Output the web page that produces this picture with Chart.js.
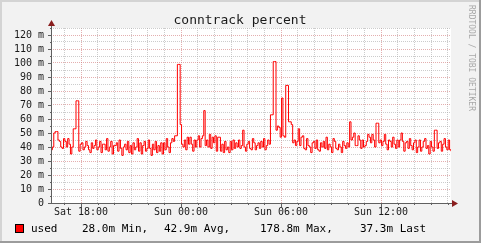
<!DOCTYPE html>
<html>
<head>
<meta charset="utf-8">
<script src="https://cdn.jsdelivr.net/npm/chart.js@4"></script>
<style>
  html, body { margin: 0; padding: 0; background: #f2f2f2; }
  #wrap { width: 481px; height: 243px; position: relative; }
</style>
</head>
<body>
<div id="wrap"><canvas id="graph" width="481" height="243"></canvas></div>
<script>
// conntrack percent, one sample every 5 minutes, starting Sat 16:12
const seriesName = 'used';
const stepMinutes = 5;
const usedValues = [
  38, 40, 50, 51, 51, 45, 44, 40, 39, 46,
  44, 40, 46, 42, 35, 40, 53, 53, 73, 73,
  37, 42, 43, 38, 40, 44, 41, 38, 36, 43,
  39, 41, 45, 38, 40, 44, 36, 42, 42, 38,
  46, 37, 40, 44, 35, 41, 41, 43, 37, 45,
  39, 34, 40, 42, 38, 44, 36, 41, 35, 43,
  38, 40, 46, 37, 43, 35, 41, 44, 37, 39,
  45, 39, 34, 42, 38, 44, 36, 41, 37, 43,
  35, 43, 38, 46, 40, 36, 43, 46, 44, 48,
  48, 99, 99, 56, 42, 40, 45, 38, 47, 42,
  47, 42, 37, 45, 40, 45, 48, 40, 46, 48,
  66, 41, 45, 40, 49, 39, 47, 43, 48, 37,
  47, 47, 37, 42, 36, 44, 38, 40, 36, 44,
  38, 45, 39, 43, 40, 45, 39, 41, 52, 40,
  37, 42, 44, 39, 38, 46, 43, 38, 41, 43,
  39, 44, 40, 46, 38, 41, 45, 42, 63, 63,
  101, 101, 52, 55, 54, 47, 75, 48, 47, 84,
  84, 58, 58, 56, 43, 45, 41, 44, 53, 41,
  47, 48, 39, 38, 46, 41, 40, 36, 43, 44,
  39, 45, 38, 37, 43, 40, 44, 39, 47, 38,
  42, 40, 36, 46, 44, 39, 38, 42, 40, 36,
  44, 41, 39, 43, 40, 58, 45, 47, 50, 41,
  41, 48, 45, 39, 45, 40, 41, 44, 49, 47,
  43, 49, 45, 40, 57, 57, 43, 45, 41, 44,
  49, 42, 38, 45, 44, 40, 47, 42, 39, 45,
  40, 45, 50, 44, 37, 43, 44, 39, 46, 41,
  38, 43, 45, 36, 40, 45, 37, 40, 44, 46,
  39, 41, 35, 44, 40, 37, 52, 52, 39, 43,
  44, 37, 42, 46, 40, 38, 45, 38, 37
];
// x tick labels every 6 hours, minutes from start
const xTickMinutes = [108, 468, 828, 1188];
const xTickLabels = ['Sat 18:00', 'Sun 00:00', 'Sun 06:00', 'Sun 12:00'];
const yMax = 125;
const legendStats = [
  ['28.0m', 'Min,'],
  ['42.9m', 'Avg,'],
  ['178.8m', 'Max,'],
  ['37.3m', 'Last']
];

const points = usedValues.map(function (v, i) {
  return { x: i * stepMinutes, y: v };
});
const totalMinutes = (usedValues.length - 1) * stepMinutes;

const MONO = '"DejaVu Sans Mono", monospace';
const majorGrid = 'rgba(205,110,110,0.55)';
const minorGrid = 'rgba(170,170,170,0.6)';

const rrdFrame = {
  id: 'rrdFrame',
  beforeDraw(chart) {
    const ctx = chart.ctx;
    const a = chart.chartArea;
    ctx.save();
    ctx.fillStyle = '#f2f2f2';
    ctx.fillRect(0, 0, 481, 243);
    // 3d frame
    ctx.fillStyle = '#d4d4d4';
    ctx.fillRect(0, 0, 481, 2);
    ctx.fillRect(0, 0, 2, 243);
    ctx.fillStyle = '#9c9c9c';
    ctx.fillRect(0, 241, 481, 2);
    ctx.fillRect(479, 0, 2, 243);
    ctx.fillStyle = '#ffffff';
    ctx.fillRect(a.left, a.top, a.right - a.left, a.bottom - a.top);
    ctx.restore();
  },
  afterDraw(chart) {
    const ctx = chart.ctx;
    const a = chart.chartArea;
    const xs = chart.scales.x;
    const ys = chart.scales.y;
    ctx.save();

    // axes
    ctx.strokeStyle = '#606060';
    ctx.lineWidth = 1;
    ctx.beginPath();
    ctx.moveTo(a.left + 0.5, a.bottom + 0.5);
    ctx.lineTo(a.left + 0.5, a.top - 2);
    ctx.moveTo(a.left - 3, a.bottom + 0.5);
    ctx.lineTo(a.right + 2, a.bottom + 0.5);
    // y ticks
    for (let v = 0; v <= yMax; v += 5) {
      const y = Math.round(ys.getPixelForValue(v)) + 0.5;
      ctx.moveTo(a.left - (v % 10 === 0 ? 3 : 1), y);
      ctx.lineTo(a.left, y);
    }
    // x ticks, every hour
    for (let m = 48; m <= totalMinutes; m += 60) {
      const x = Math.round(xs.getPixelForValue(m)) + 0.5;
      const major = xTickMinutes.indexOf(m) >= 0;
      ctx.moveTo(x, a.bottom + 1);
      ctx.lineTo(x, a.bottom + (major ? 4 : 2));
    }
    ctx.stroke();

    // arrows
    ctx.fillStyle = '#8a1e1e';
    ctx.beginPath();
    ctx.moveTo(a.left - 3, a.top - 2);
    ctx.lineTo(a.left + 4, a.top - 2);
    ctx.lineTo(a.left + 0.5, a.top - 8);
    ctx.closePath();
    ctx.fill();
    ctx.beginPath();
    ctx.moveTo(a.right + 1, a.bottom - 3);
    ctx.lineTo(a.right + 1, a.bottom + 4);
    ctx.lineTo(a.right + 7, a.bottom + 0.5);
    ctx.closePath();
    ctx.fill();

    // title
    ctx.fillStyle = '#1a1a1a';
    ctx.font = '13px ' + MONO;
    ctx.textAlign = 'center';
    ctx.textBaseline = 'alphabetic';
    ctx.fillText('conntrack percent', 240, 24);

    // watermark
    ctx.save();
    ctx.translate(469, 5);
    ctx.rotate(Math.PI / 2);
    ctx.fillStyle = '#a8a8a8';
    ctx.font = '8px ' + MONO;
    ctx.textAlign = 'left';
    ctx.textBaseline = 'alphabetic';
    ctx.fillText('RRDTOOL / TOBI OETIKER', 0, 0);
    ctx.restore();

    // legend
    ctx.fillStyle = '#ff0000';
    ctx.fillRect(15, 224, 9, 9);
    ctx.strokeStyle = '#000000';
    ctx.strokeRect(15.5, 224.5, 8, 8);
    ctx.fillStyle = '#000000';
    ctx.font = '11px ' + MONO;
    ctx.textAlign = 'left';
    ctx.fillText(seriesName, 31, 232);
    const legendX = [82, 164, 260, 360];
    legendStats.forEach(function (s, i) {
      ctx.fillText(s[0] + ' ' + s[1], legendX[i], 232);
    });
    ctx.restore();
  }
};

new Chart(document.getElementById('graph'), {
  type: 'line',
  data: {
    datasets: [{
      label: seriesName,
      data: points,
      stepped: true,
      borderColor: '#ff0000',
      borderWidth: 1,
      pointRadius: 0,
      fill: false
    }]
  },
  options: {
    responsive: false,
    animation: false,
    devicePixelRatio: 1,
    layout: { padding: { top: 28, right: 30, bottom: 20, left: 0 } },
    plugins: { legend: { display: false }, tooltip: { enabled: false } },
    scales: {
      x: {
        type: 'linear',
        min: 0,
        max: totalMinutes,
        afterBuildTicks: function (scale) {
          const t = [];
          for (let m = 48; m <= totalMinutes; m += 60) t.push({ value: m });
          scale.ticks = t;
        },
        afterFit: function (scale) { scale.height = 20; },
        ticks: {
          autoSkip: false,
          maxRotation: 0,
          padding: 3,
          color: '#1a1a1a',
          font: { family: MONO, size: 10 },
          callback: function (v) {
            const k = xTickMinutes.indexOf(v);
            return k >= 0 ? xTickLabels[k] : '';
          }
        },
        grid: {
          drawTicks: false,
          color: function (c) {
            return xTickMinutes.indexOf(c.tick && c.tick.value) >= 0 ? majorGrid : minorGrid;
          }
        },
        border: { display: false, dash: [1, 1] }
      },
      y: {
        min: 0,
        max: yMax,
        afterBuildTicks: function (scale) {
          const t = [];
          for (let v = 0; v <= yMax; v += 5) t.push({ value: v });
          scale.ticks = t;
        },
        afterFit: function (scale) { scale.width = 51; },
        ticks: {
          autoSkip: false,
          padding: 7,
          color: '#1a1a1a',
          font: { family: MONO, size: 10 },
          callback: function (v) {
            if (v % 10 !== 0) return '';
            return v === 0 ? '0' : v + ' m';
          }
        },
        grid: {
          drawTicks: false,
          color: function (c) {
            return c.tick && c.tick.value % 10 === 0 ? majorGrid : minorGrid;
          }
        },
        border: { display: false, dash: [1, 1] }
      }
    }
  },
  plugins: [rrdFrame]
});
</script>
</body>
</html>
